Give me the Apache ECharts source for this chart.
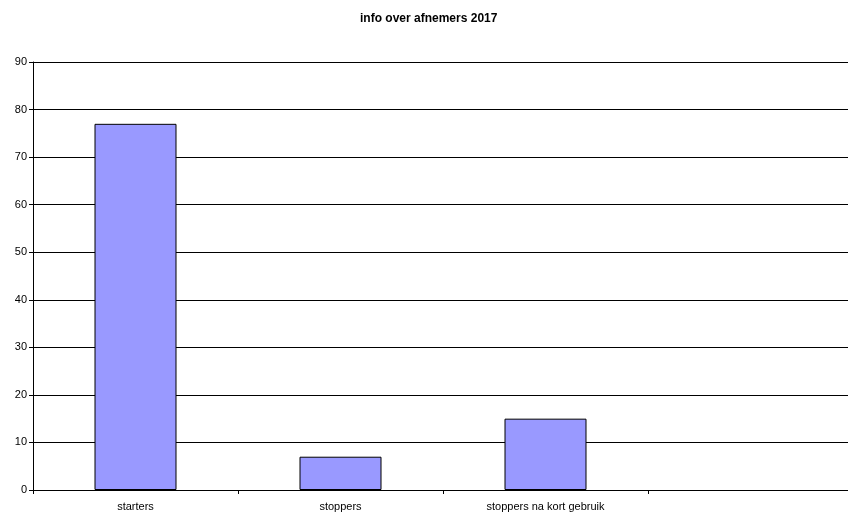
<!DOCTYPE html>
<html><head><meta charset="utf-8">
<script src="https://cdn.jsdelivr.net/npm/echarts@6/dist/echarts.min.js"></script>
<style>html,body{margin:0;padding:0;background:#fff;overflow:hidden;width:848px;height:513px}#c{width:858px;height:513px}</style>
</head><body><div id="c"></div>
<script>
const title = 'info over afnemers 2017';
const categories = ['starters', 'stoppers', 'stoppers na kort gebruik', ''];
const values = [77, 7, 15, null];
const chart = echarts.init(document.getElementById('c'));
chart.setOption({
  animation: false,
  backgroundColor: '#fff',
  title: { text: title, left: 355, top: 8, textStyle: { fontFamily: 'Liberation Sans, Arial', fontSize: 12, fontWeight: 'bold', color: '#000' } },
  grid: { left: 33, top: 62, bottom: 23, right: 5 },
  xAxis: {
    type: 'category', data: categories, boundaryGap: true,
    axisLine: { lineStyle: { color: '#000', width: 1 } },
    axisTick: { show: true, length: 4, lineStyle: { color: '#000' } },
    axisLabel: { color: '#000', fontFamily: 'Liberation Sans, Arial', fontSize: 11, margin: 11 }
  },
  yAxis: {
    type: 'value', min: 0, max: 90, interval: 10,
    axisLine: { show: true, lineStyle: { color: '#000', width: 1 } },
    axisTick: { show: true, length: 4, lineStyle: { color: '#000' } },
    axisLabel: { color: '#000', fontFamily: 'Liberation Sans, Arial', fontSize: 11, margin: 6 },
    splitLine: { lineStyle: { color: '#000', width: 1 } }
  },
  series: [{
    type: 'bar', data: values, barWidth: '40%',
    itemStyle: { color: '#9999FF', borderColor: '#000', borderWidth: 1 }
  }]
});
</script></body></html>
